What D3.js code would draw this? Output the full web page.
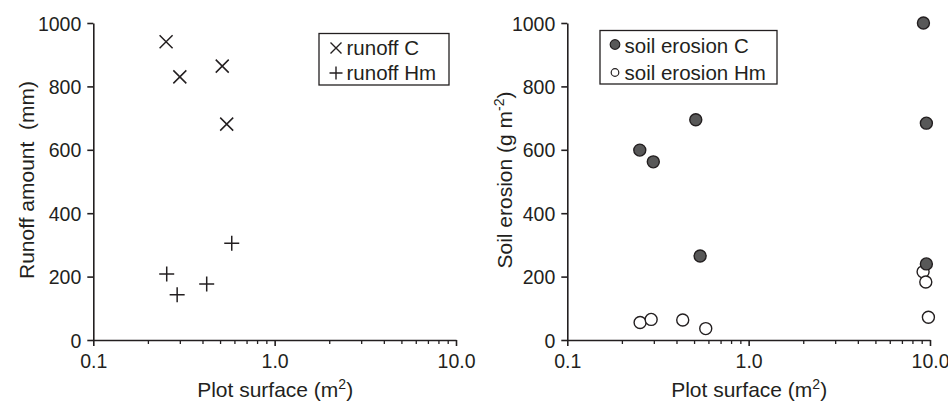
<!DOCTYPE html>
<html>
<head>
<meta charset="utf-8">
<script src="https://cdn.jsdelivr.net/npm/d3@7"></script>
<style>
  body { margin: 0; background: #fff; }
  svg { display: block; }
  text { font-family: "Liberation Sans", Arial, Helvetica, sans-serif; fill: #231f20; }
</style>
</head>
<body>
<svg id="chart" width="948" height="401"></svg>
<script>
// ---- data ----
const runoffC_x = [0.252, 0.30, 0.514, 0.544];
const runoffC_y = [941, 830, 864, 681];
const runoffHm_x = [0.254, 0.29, 0.422, 0.58];
const runoffHm_y = [208, 143, 177, 305];

const erosionC_x = [0.251, 0.298, 0.511, 0.54, 9.2, 9.55, 9.55];
const erosionC_y = [599, 562, 695, 265, 1000, 684, 240];
const erosionHm_x = [0.252, 0.29, 0.433, 0.58, 9.16, 9.48, 9.8];
const erosionHm_y = [55, 65, 63, 36, 215, 183, 72];

const xMajorTicks = [0.1, 1, 10];
const xMajorLabels = ["0.1", "1.0", "10.0"];
const xMinorTicks = [0.2, 0.3, 0.4, 0.5, 0.6, 0.7, 0.8, 0.9, 2, 3, 4, 5, 6, 7, 8, 9];
const yTicks = [0, 200, 400, 600, 800, 1000];

const svg = d3.select("#chart");
const ink = "#231f20";
const tickFont = 19.5, titleFont = 21, legendFont = 20.5;

function panel(x0, x1, yLabelX, yLabelParts) {
  const x = d3.scaleLog().domain([0.1, 10]).range([x0, x1]);
  const y = d3.scaleLinear().domain([0, 1000]).range([340, 23]);
  const g = svg.append("g");

  // minor x ticks
  g.append("g").attr("transform", "translate(0,340)")
    .call(d3.axisBottom(x).tickValues(xMinorTicks).tickSize(4).tickSizeOuter(0).tickFormat(""))
    .call(s => s.select(".domain").remove())
    .call(s => s.selectAll("line").attr("stroke", ink).attr("stroke-width", 1.3));
  // major x ticks
  g.append("g").attr("transform", "translate(0,340)")
    .call(d3.axisBottom(x).tickValues(xMajorTicks).tickSize(6).tickSizeOuter(0)
      .tickFormat((d, i) => xMajorLabels[i]))
    .call(s => s.select(".domain").attr("stroke", ink).attr("stroke-width", 1.6))
    .call(s => s.selectAll("line").attr("stroke", ink).attr("stroke-width", 1.6))
    .call(s => s.selectAll("text").attr("font-size", tickFont).attr("dy", "0").attr("y", 28)
      .style("font-family", "'Liberation Sans', Arial, sans-serif").attr("fill", ink));
  // y axis
  g.append("g").attr("transform", `translate(${x0},0)`)
    .call(d3.axisLeft(y).tickValues(yTicks).tickSize(6).tickSizeOuter(0).tickFormat(d3.format("d")))
    .call(s => s.select(".domain").attr("stroke", ink).attr("stroke-width", 1.6))
    .call(s => s.selectAll("line").attr("stroke", ink).attr("stroke-width", 1.6))
    .call(s => s.selectAll("text").attr("font-size", tickFont).attr("x", -12).attr("dy", "0.36em")
      .style("font-family", "'Liberation Sans', Arial, sans-serif").attr("fill", ink));

  // x title
  const xt = g.append("text").attr("x", (x0 + x1) / 2 + 0.5).attr("y", 397)
    .attr("text-anchor", "middle").attr("font-size", titleFont);
  xt.append("tspan").text("Plot surface (m");
  xt.append("tspan").attr("dy", -8).attr("font-size", 14).text("2");
  xt.append("tspan").attr("dy", 8).text(")");

  // y title
  const yt = g.append("text").attr("transform", `translate(${yLabelX},180) rotate(-90)`)
    .attr("text-anchor", "middle").attr("font-size", titleFont);
  yLabelParts(yt);

  return { x, y, g };
}

function crossPath(cx, cy, r) {
  return `M${cx - r},${cy - r}L${cx + r},${cy + r}M${cx - r},${cy + r}L${cx + r},${cy - r}`;
}
function plusPath(cx, cy, r) {
  return `M${cx - r},${cy}L${cx + r},${cy}M${cx},${cy - r}L${cx},${cy + r}`;
}

// ---- left panel ----
const L = panel(93.3, 456, 34, t => t.text("Runoff amount\u00A0\u00A0(mm)"));
L.g.selectAll("path.rc").data(runoffC_x.map((d, i) => [d, runoffC_y[i]])).enter()
  .append("path").attr("class", "rc")
  .attr("d", d => crossPath(L.x(d[0]), L.y(d[1]), 6.5))
  .attr("stroke", ink).attr("stroke-width", 1.5).attr("fill", "none");
L.g.selectAll("path.rh").data(runoffHm_x.map((d, i) => [d, runoffHm_y[i]])).enter()
  .append("path").attr("class", "rh")
  .attr("d", d => plusPath(L.x(d[0]), L.y(d[1]), 7.5))
  .attr("stroke", ink).attr("stroke-width", 1.5).attr("fill", "none");

// left legend
const lg = L.g.append("g");
lg.append("rect").attr("x", 319).attr("y", 33.5).attr("width", 130).attr("height", 51.5)
  .attr("fill", "none").attr("stroke", ink).attr("stroke-width", 1.3);
lg.append("path").attr("d", crossPath(336, 48, 5.5)).attr("stroke", ink).attr("stroke-width", 1.4).attr("fill", "none");
lg.append("path").attr("d", plusPath(336, 73, 6.5)).attr("stroke", ink).attr("stroke-width", 1.4).attr("fill", "none");
lg.append("text").attr("x", 346.5).attr("y", 55).attr("font-size", legendFont).text("runoff C");
lg.append("text").attr("x", 346.5).attr("y", 80).attr("font-size", legendFont).text("runoff Hm");

// ---- right panel ----
const R = panel(567.3, 930, 512, t => {
  t.append("tspan").text("Soil erosion (g m");
  t.append("tspan").attr("dy", -8).attr("font-size", 14).text("-2");
  t.append("tspan").attr("dy", 8).text(")");
});
R.g.selectAll("circle.eh").data(erosionHm_x.map((d, i) => [d, erosionHm_y[i]])).enter()
  .append("circle").attr("class", "eh")
  .attr("cx", d => R.x(d[0])).attr("cy", d => R.y(d[1])).attr("r", 6)
  .attr("fill", "#fff").attr("stroke", ink).attr("stroke-width", 1.4);
R.g.selectAll("circle.ec").data(erosionC_x.map((d, i) => [d, erosionC_y[i]])).enter()
  .append("circle").attr("class", "ec")
  .attr("cx", d => R.x(d[0])).attr("cy", d => R.y(d[1])).attr("r", 6)
  .attr("fill", "#585858").attr("stroke", ink).attr("stroke-width", 1.4);

// right legend
const rg = R.g.append("g");
rg.append("rect").attr("x", 600).attr("y", 30.5).attr("width", 177).attr("height", 53.5)
  .attr("fill", "none").attr("stroke", ink).attr("stroke-width", 1.3);
rg.append("circle").attr("cx", 615).attr("cy", 44.5).attr("r", 4.8)
  .attr("fill", "#585858").attr("stroke", ink).attr("stroke-width", 1.2);
rg.append("circle").attr("cx", 615).attr("cy", 72.5).attr("r", 3.8)
  .attr("fill", "#fff").attr("stroke", ink).attr("stroke-width", 1.2);
rg.append("text").attr("x", 624.5).attr("y", 53).attr("font-size", legendFont).text("soil erosion C");
rg.append("text").attr("x", 624.5).attr("y", 80).attr("font-size", legendFont).text("soil erosion Hm");
</script>
</body>
</html>
